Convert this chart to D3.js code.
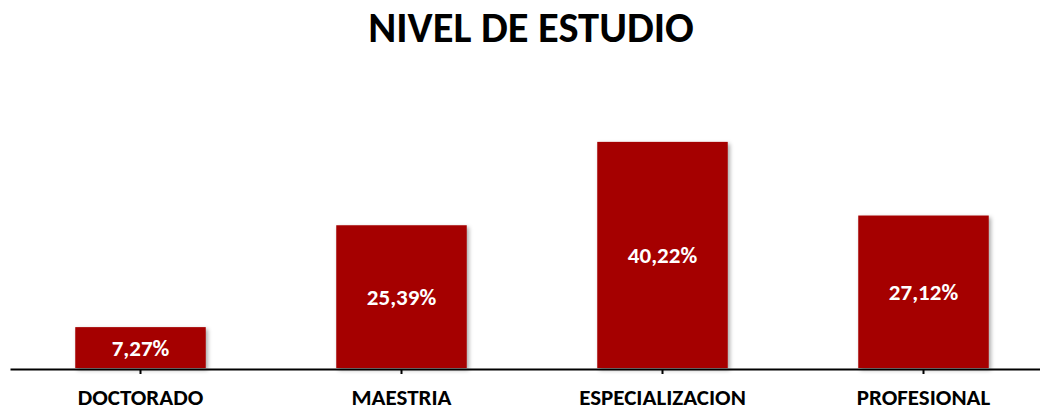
<!DOCTYPE html>
<html>
<head>
<meta charset="utf-8">
<script src="https://cdn.jsdelivr.net/npm/d3@7"></script>
<style>
  body { margin: 0; background: #fff; }
  text { font-family: Carlito, Calibri, "Open Sans", sans-serif; font-weight: bold; }
</style>
</head>
<body>
<div id="chart"></div>
<script>
// data
const categories = ['DOCTORADO', 'MAESTRIA', 'ESPECIALIZACION', 'PROFESIONAL'];
const values = [7.27, 25.39, 40.22, 27.12];
const labels = ['7,27%', '25,39%', '40,22%', '27,12%'];

const width = 1040;
const height = 410;
const baseY = 368;

const svg = d3.select('#chart')
    .append('svg')
    .attr('width', width)
    .attr('height', height);

// shadow for bars
const defs = svg.append('defs');
defs.append('filter')
    .attr('id', 'shadow')
    .attr('x', '-10%').attr('y', '-10%')
    .attr('width', '130%').attr('height', '130%')
    .append('feDropShadow')
    .attr('dx', 2).attr('dy', 2)
    .attr('stdDeviation', 2)
    .attr('flood-color', '#000')
    .attr('flood-opacity', 0.35);

const xScale = d3.scaleBand()
    .domain(categories)
    .range([10, 1054])
    .paddingInner(0.5)
    .paddingOuter(0.25);

const yScale = d3.scaleLinear()
    .domain([0, 45])
    .range([baseY, baseY - 253]);

// title
svg.append('text')
    .attr('x', 531)
    .attr('y', 42)
    .attr('text-anchor', 'middle')
    .style('font-size', '42.5px')
    .attr('fill', '#000')
    .text('NIVEL DE ESTUDIO');

// bars
svg.selectAll('rect.bar')
    .data(values)
    .enter()
    .append('rect')
    .attr('class', 'bar')
    .attr('x', (d, i) => xScale(categories[i]))
    .attr('y', d => yScale(d))
    .attr('width', xScale.bandwidth())
    .attr('height', d => baseY - yScale(d))
    .attr('fill', '#a50000')
    .attr('filter', 'url(#shadow)');

// value labels
svg.selectAll('text.val')
    .data(values)
    .enter()
    .append('text')
    .attr('class', 'val')
    .attr('x', (d, i) => xScale(categories[i]) + xScale.bandwidth() / 2)
    .attr('y', d => (yScale(d) + baseY) / 2)
    .attr('dy', '0.35em')
    .attr('text-anchor', 'middle')
    .attr('fill', '#fff')
    .style('font-size', '23px')
    .text((d, i) => labels[i]);

// axis
const axis = svg.append('g')
    .attr('transform', `translate(0, ${baseY + 1})`)
    .call(d3.axisBottom(xScale).tickSize(5).tickPadding(15).tickSizeOuter(0));
axis.select('.domain').attr('stroke', '#000').attr('stroke-width', 2);
axis.selectAll('.tick line').attr('stroke', '#000').attr('stroke-width', 2);
axis.selectAll('.tick text')
    .attr('fill', '#000')
    .style('font-size', '23px')
    .style('font-family', 'Carlito, Calibri, "Open Sans", sans-serif')
    .style('font-weight', 'bold');
</script>
</body>
</html>
